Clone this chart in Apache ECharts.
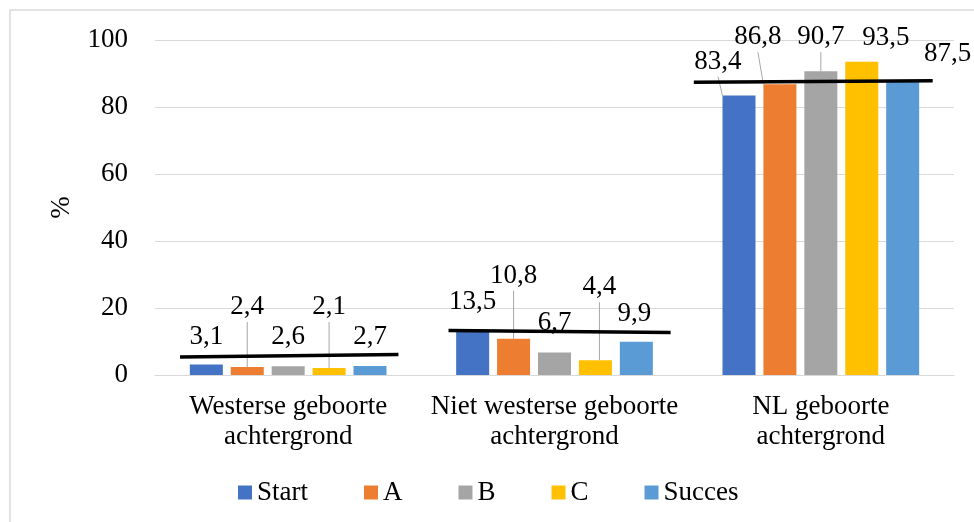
<!DOCTYPE html>
<html>
<head>
<meta charset="utf-8">
<script src="https://cdn.jsdelivr.net/npm/echarts@6/dist/echarts.min.js"></script>
<style>
  html, body { margin: 0; padding: 0; background: #fff; }
  #chart { width: 974px; height: 522px; }
</style>
</head>
<body>
<div id="chart"></div>
<script>
// categorieen en waarden
const categories = ['Westerse geboorte\nachtergrond', 'Niet westerse geboorte\nachtergrond', 'NL geboorte\nachtergrond'];
const seriesNames = ['Start', 'A', 'B', 'C', 'Succes'];
const start = [3.1, 13.5, 83.4];
const faseA = [2.4, 10.8, 86.8];
const faseB = [2.6, 6.7, 90.7];
const faseC = [2.1, 4.4, 93.5];
const succes = [2.7, 9.9, 87.5];
const yTicks = [0, 20, 40, 60, 80, 100];
// zwarte lijn per groep (links, rechts)
const refLeft = [5.4, 13.3, 87.4];
const refRight = [6.1, 12.7, 87.8];

const colors = ['#4472c4', '#ed7d31', '#a5a5a5', '#ffc000', '#5b9bd5'];
const font = 'Liberation Serif';

// verplaatsing van de labels (dx, dy) per serie / groep
const labelShift = [
  [[0, -8], [0, -8], [-21, -14]],
  [[0, -40], [0, -43], [-22, -27]],
  [[0, -9], [0, -10], [0, -14]],
  [[0, -41], [4, -53], [24, -4]],
  [[0, -9], [-2, -8], [45, -8]]
];
// welke labels een verbindingslijn hebben
const leader = [
  [false, false, true],
  [true, true, true],
  [false, false, true],
  [true, true, false],
  [false, false, false]
];
// breedte van de zwarte lijn als deel van de categorie
const refSpan = [[-0.406, 0.414], [-0.398, 0.436], [-0.477, 0.42]];

const values = [start, faseA, faseB, faseC, succes];

const chart = echarts.init(document.getElementById('chart'));

const barSeries = seriesNames.map((name, s) => ({
  name: name,
  type: 'bar',
  barWidth: 33,
  barGap: '24%',
  itemStyle: { color: colors[s] },
  z: 2,
  data: values[s].map((v, i) => ({ value: v, labelLine: { show: leader[s][i] } })),
  label: {
    show: true,
    position: 'top',
    distance: 5,
    fontFamily: font,
    fontSize: 27,
    lineHeight: 30,
    color: '#000',
    formatter: p => String(p.value).replace('.', ',')
  },
  labelLine: {
    lineStyle: { color: '#a6a6a6', width: 1 }
  },
  labelLayout: function (params) {
    const sh = labelShift[params.seriesIndex][params.dataIndex];
    return { dx: sh[0], dy: sh[1] };
  }
}));

const option = {
  animation: false,
  color: colors,
  graphic: [{
    type: 'rect',
    shape: { x: 10, y: 10, width: 1000, height: 600 },
    style: { fill: 'none', stroke: '#d9d9d9', lineWidth: 1.5 },
    silent: true,
    z: -10
  }],
  grid: {
    left: 155,
    right: 20,
    top: 40,
    bottom: 147
  },
  legend: {
    data: seriesNames,
    left: 233,
    top: 474,
    icon: 'rect',
    itemWidth: 14,
    itemHeight: 14,
    itemGap: 56,
    textStyle: { fontFamily: font, fontSize: 27, color: '#000' }
  },
  xAxis: {
    type: 'category',
    data: categories,
    axisTick: { show: false },
    axisLine: { lineStyle: { color: '#d9d9d9', width: 1 } },
    axisLabel: {
      fontFamily: font,
      fontSize: 27,
      lineHeight: 30,
      color: '#000',
      margin: 17,
      interval: 0
    }
  },
  yAxis: {
    type: 'value',
    min: yTicks[0],
    max: yTicks[yTicks.length - 1],
    interval: 20,
    name: '%',
    nameLocation: 'middle',
    nameRotate: 90,
    nameGap: 80,
    nameTextStyle: { fontFamily: font, fontSize: 27, color: '#000' },
    axisLine: { show: false },
    axisTick: { show: false },
    axisLabel: { fontFamily: font, fontSize: 27, color: '#000', margin: 27 },
    splitLine: { lineStyle: { color: '#d9d9d9', width: 1 } }
  },
  series: barSeries.concat([{
    type: 'custom',
    name: 'ref',
    z: 10,
    silent: true,
    data: refLeft.map((v, i) => [i, v, refRight[i]]),
    renderItem: function (params, api) {
      const i = api.value(0);
      const band = api.size([1, 0])[0];
      const pl = api.coord([i, api.value(1)]);
      const pr = api.coord([i, api.value(2)]);
      return {
        type: 'line',
        shape: {
          x1: pl[0] + refSpan[i][0] * band, y1: pl[1],
          x2: pr[0] + refSpan[i][1] * band, y2: pr[1]
        },
        style: { stroke: '#000', lineWidth: 3.5 }
      };
    }
  }])
};

chart.setOption(option);
</script>
</body>
</html>
